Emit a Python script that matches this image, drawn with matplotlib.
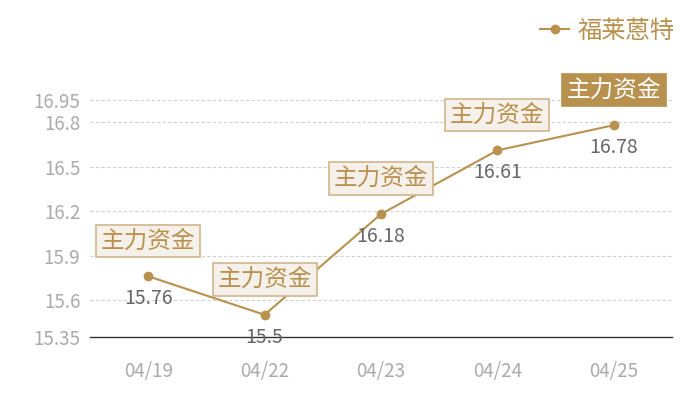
import matplotlib.pyplot as plt

plt.rcParams['font.family'] = ['Noto Sans CJK SC', 'DejaVu Sans']

dates = ['04/19', '04/22', '04/23', '04/24', '04/25']
prices = [15.76, 15.5, 16.18, 16.61, 16.78]
tags = ['主力资金', '主力资金', '主力资金', '主力资金', '主力资金']
y_ticks = [15.35, 15.6, 15.9, 16.2, 16.5, 16.8, 16.95]
series_name = '福莱蒽特'

gold = '#b8914f'

fig = plt.figure(figsize=(7, 4), dpi=100)
ax = fig.add_axes([90 / 700, 1 - 337 / 400, 582 / 700, 237 / 400])

x = list(range(len(dates)))
ax.plot(x, prices, color=gold, lw=1.5, marker='o', ms=6, label=series_name, zorder=3)

for i, (p, t) in enumerate(zip(prices, tags)):
    ax.annotate(f'{p:g}', (i, p), xytext=(0, -16), textcoords='offset points',
                ha='center', va='center', fontsize=14, color='#666666', zorder=4)
    last = i == len(prices) - 1
    ax.annotate(t, (i, p), xytext=(0, 25.5), textcoords='offset points',
                ha='center', va='center', fontsize=17,
                color='white' if last else gold, zorder=5,
                bbox=dict(boxstyle='square,pad=0.2',
                          fc=gold if last else '#f5f0ea',
                          ec=gold if last else '#d2b48c', lw=1.2))

ax.set_xlim(-0.5, len(dates) - 0.5)
ax.set_ylim(y_ticks[0], y_ticks[-1])
ax.set_xticks(x)
ax.set_xticklabels(dates)
ax.set_yticks(y_ticks)
ax.set_yticklabels([f'{v:g}' for v in y_ticks])
ax.tick_params(length=0, colors='#aaaaaa', labelsize=13.5)
ax.tick_params(axis='x', pad=17)
ax.tick_params(axis='y', pad=7)

for v in y_ticks[1:]:
    ax.axhline(v, color='#d0d0d0', lw=0.8, ls=(0, (3, 2)), zorder=1)

for s in ['top', 'right', 'left']:
    ax.spines[s].set_visible(False)
ax.spines['bottom'].set_color('#333333')
ax.spines['bottom'].set_linewidth(1)

leg = fig.legend(loc='upper right', bbox_to_anchor=(0.995, 1.01), frameon=False,
                 fontsize=17.5, handlelength=1.2, handletextpad=0.35, labelcolor=gold)

fig.savefig('out.png', dpi=100)
